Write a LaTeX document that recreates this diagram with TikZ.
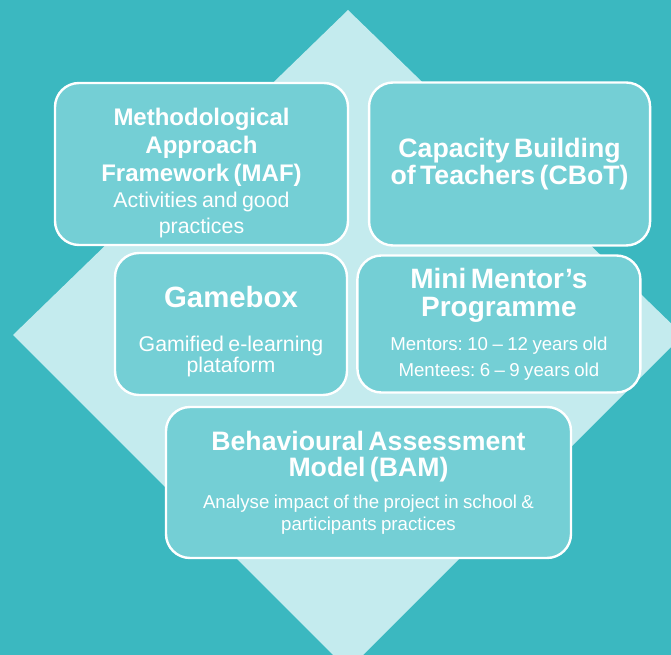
\documentclass[tikz,border=0pt]{standalone}
\usepackage{fontspec}
\setmainfont{Liberation Sans}
\usetikzlibrary{positioning, math}

\definecolor{bgTeal}{RGB}{59,184,192}
\definecolor{diamondC}{RGB}{196,235,238}
\definecolor{boxC}{RGB}{116,207,213}

\newcommand{\boxtitle}[3]{{\fontsize{#1}{#2}\selectfont\bfseries #3\par}}
\newcommand{\boxtext}[3]{{\fontsize{#1}{#2}\selectfont #3\par}}
\frenchspacing

\begin{document}
\begin{tikzpicture}[x=0.75pt, y=-0.75pt]
		\tikzmath{
			\boxR   = 18;   %corner radius
			\boxLW  = 1.8;  %border width
			\boxGap = 14;   %gap between the two top boxes
		}
		\tikzstyle{Base} = [
			draw=white,
			line width=\boxLW pt,
			rounded corners=\boxR pt,
			fill=boxC,
			text=white,
			align=center,
			inner sep=0pt,
		]
		%%%%%%%%%%%%%%%%%%%%%%%%%%===---BACKGROUND---===%%%%%%%%%%%%%%%%%%%%%%%%%%
		\fill [bgTeal] (0,0) rectangle (671,655);
		\useasboundingbox (0,0) rectangle (671,655);
		\fill [diamondC] (348,10) -- (683,335) -- (348,670) -- (13,335) -- cycle;
		%%%%%%%%%%%%%%%%%%%%%%%%%%===---FIRST LINE---===%%%%%%%%%%%%%%%%%%%%%%%%%%
		\node (maf) [Base, minimum width=219.75pt, minimum height=121.5pt, text width=205pt] at (201.5,164) {%
			\par\vspace*{5.5pt}
			\boxtitle{18}{21}{Methodological\\Approach\\Framework (MAF)}
			\boxtext{16}{19.5}{Activities and good\\practices}};
		\node (cbot) [Base, minimum width=210.75pt, minimum height=122.25pt, text width=200pt, right = \boxGap pt of maf] {%
			\boxtitle{20}{20.25}{Capacity Building\\of Teachers (CBoT)}};
		%%%%%%%%%%%%%%%%%%%%%%%%%%===---SECOND LINE---===%%%%%%%%%%%%%%%%%%%%%%%%%%
		\node (game) [Base, minimum width=174pt, minimum height=106.5pt, text width=165pt] at (231,324) {%
			\par\vspace*{5pt}
			\boxtitle{22}{22}{Gamebox}
			\vspace{17pt}
			\boxtext{16}{15.75}{Gamified e-learning\\plataform}};
		\node (mini) [Base, minimum width=212.25pt, minimum height=102.75pt, text width=200pt, right = 6pt of game] {%
			\boxtitle{21}{21}{Mini Mentor’s\\Programme}
			\vspace{6pt}
			\boxtext{14}{19.5}{Mentors: 10 – 12 years old\\Mentees: 6 – 9 years old}};
		%%%%%%%%%%%%%%%%%%%%%%%%%%===---THIRD LINE---===%%%%%%%%%%%%%%%%%%%%%%%%%%
		\node (bam) [Base, minimum width=303.75pt, minimum height=113.25pt, text width=290pt] at (368.5,482.5) {%
			\boxtitle{20}{19.5}{Behavioural Assessment\\Model (BAM)}
			\vspace{7.5pt}
			\boxtext{14}{16.5}{Analyse impact of the project in school \&\\participants practices}};
	\end{tikzpicture}
\end{document}
